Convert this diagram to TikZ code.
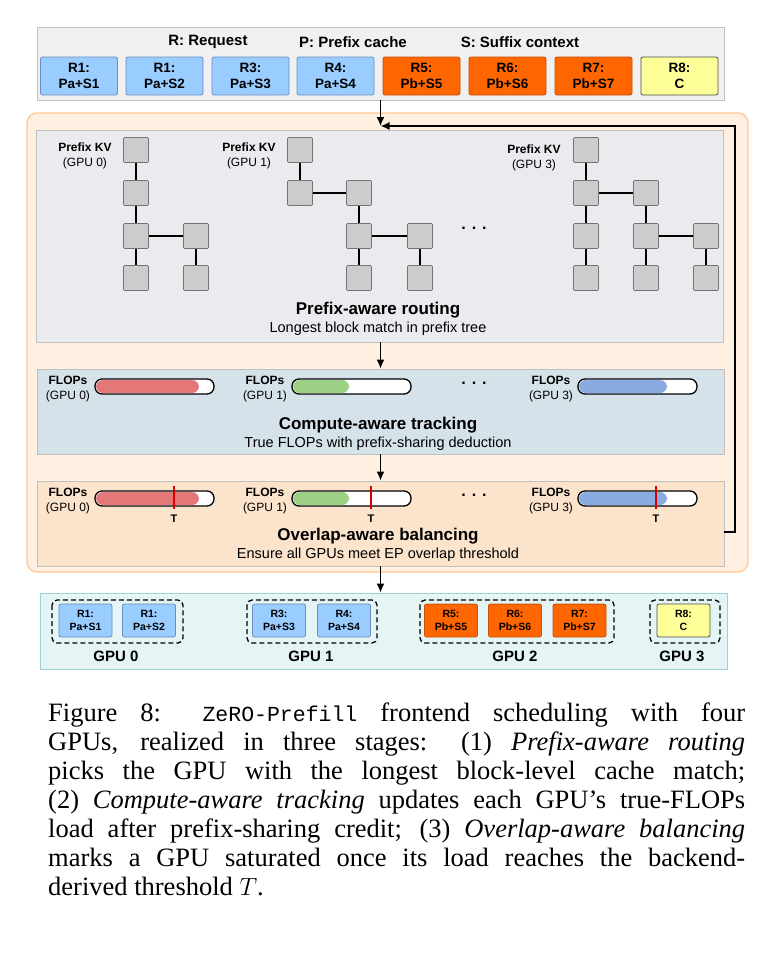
\documentclass[tikz,border=0pt]{standalone}
\usepackage{fontspec}
\setmainfont{Liberation Serif}
\setsansfont{Liberation Sans}
\setmonofont{Liberation Mono}
\usetikzlibrary{arrows.meta}

\definecolor{reqblue}{RGB}{153,204,255}
\definecolor{reqblueline}{RGB}{108,142,191}
\definecolor{reqorange}{RGB}{255,102,0}
\definecolor{reqorangeline}{RGB}{196,80,10}
\definecolor{reqyellow}{RGB}{255,255,153}
\definecolor{outerfill}{RGB}{255,240,226}
\definecolor{outerline}{RGB}{255,200,150}
\definecolor{prefixfill}{RGB}{233,235,238}
\definecolor{computefill}{RGB}{214,226,233}
\definecolor{overlapfill}{RGB}{251,227,204}
\definecolor{gpufill}{RGB}{229,245,245}
\definecolor{gpuline}{RGB}{160,208,208}
\definecolor{barred}{RGB}{228,120,120}
\definecolor{bargreen}{RGB}{156,208,132}
\definecolor{barblue}{RGB}{136,172,226}

\tikzset{
  panel/.style={draw=black!25, line width=0.8pt, minimum width=687pt, anchor=center, inner sep=0pt},
  reqbox/.style={draw=reqblueline, fill=reqblue, line width=0.8pt, rounded corners=2pt,
    minimum width=77pt, minimum height=38pt, align=center, font=\sffamily\bfseries\fontsize{13.5}{15.5}\selectfont},
  pbox/.style={reqbox, fill=reqorange, draw=reqorangeline},
  cbox/.style={reqbox, fill=reqyellow, draw=black!70},
  smallbox/.style={reqbox, minimum width=53pt, minimum height=33pt, font=\sffamily\bfseries\fontsize{10.5}{13.5}\selectfont},
  kvblock/.style={draw=black!55, fill=black!20, line width=0.6pt, rounded corners=1pt,
    minimum width=25pt, minimum height=25pt, inner sep=0pt},
  treeedge/.style={line width=1.5pt},
  flow/.style={line width=1.5pt, -{Latex[length=9pt,width=8pt]}},
  gpugroup/.style={draw, dashed, line width=1.3pt, dash pattern=on 5pt off 3pt, rounded corners=5pt},
  barframe/.style={draw, line width=1.3pt, fill=white, rounded corners=7pt},
  tmark/.style={draw=red!85!black, line width=2.2pt},
  smalllabel/.style={align=center, font=\sffamily\fontsize{12}{15}\selectfont},
  title/.style={font=\sffamily\bfseries\fontsize{17}{19}\selectfont},
  subtitle/.style={font=\sffamily\fontsize{14.5}{17}\selectfont},
  headline/.style={font=\sffamily\bfseries\fontsize{15}{17}\selectfont}
}

\begin{document}
\begin{tikzpicture}[x=1pt, y=-1pt]
\useasboundingbox (0,0) rectangle (775,975);

% request bar
\node[panel, fill=black!6, minimum height=73pt] (topbar) at (380.5,63.5) {};
\node[headline] at (208,42) {R: Request};
\node[headline] at (353,42) {P: Prefix cache};
\node[headline] at (520,42) {S: Suffix context};
\node[reqbox] (r1) at (79,76) {R1:\\Pa+S1};
\node[reqbox] (r2) at (164.5,76) {R1:\\Pa+S2};
\node[reqbox] (r3) at (250.5,76) {R3:\\Pa+S3};
\node[reqbox] (r4) at (335.5,76) {R4:\\Pa+S4};
\node[pbox] (r5) at (421.5,76) {R5:\\Pb+S5};
\node[pbox] (r6) at (507.5,76) {R6:\\Pb+S6};
\node[pbox] (r7) at (593.5,76) {R7:\\Pb+S7};
\node[cbox] (r8) at (679.5,76) {R8:\\C};

% scheduler
\draw[outerline, fill=outerfill, line width=1.3pt, rounded corners=10pt] (27,113) rectangle (748,572);
\node[panel, fill=prefixfill, minimum height=212pt] (prefix) at (379.5,236) {};
\node[panel, fill=computefill, minimum height=85pt] (compute) at (380.5,411.5) {};
\node[panel, fill=overlapfill, minimum height=85pt] (overlap) at (380.5,523.5) {};

% prefix trees
\foreach \name/\x/\y in {a0/136/150, a1/136/193, a2/136/236, a3/136/278, a4/196/236, a5/196/278,
    b0/300/150, b1/300/193, b2/359/193, b3/359/236, b4/359/278, b5/420/236, b6/420/278,
    c0/586/150, c1/586/193, c2/586/236, c3/586/278, c4/646/193, c5/646/236, c6/646/278, c7/706/236, c8/706/278}
  \node[kvblock] (\name) at (\x,\y) {};
\foreach \u/\v in {a0/a1, a1/a2, a2/a3, a2/a4, a4/a5,
    b0/b1, b1/b2, b2/b3, b3/b4, b3/b5, b5/b6,
    c0/c1, c1/c2, c2/c3, c1/c4, c4/c5, c5/c6, c5/c7, c7/c8}
  \draw[treeedge] (\u) -- (\v);
\node[smalllabel] at (85,156) {\textbf{Prefix KV}\\(GPU 0)};
\node[smalllabel] at (249,156) {\textbf{Prefix KV}\\(GPU 1)};
\node[smalllabel] at (534,158) {\textbf{Prefix KV}\\(GPU 3)};
\node[font=\sffamily\bfseries\fontsize{16}{18}\selectfont] at (474,228) {. . .};
\node[title] at (378,310) {Prefix-aware routing};
\node[subtitle] at (378,329) {Longest block match in prefix tree};

% compute-aware tracking
\foreach \y in {379,491} {
  \draw[barframe] (95,\y) rectangle (214,\y+15);
  \fill[barred, rounded corners=7pt] (96,\y+1) rectangle (199,\y+14);
  \draw[barframe] (292,\y) rectangle (411,\y+15);
  \fill[bargreen, rounded corners=7pt] (293,\y+1) rectangle (349,\y+14);
  \draw[barframe] (578,\y) rectangle (697,\y+15);
  \fill[barblue, rounded corners=7pt] (579,\y+1) rectangle (667,\y+14);
  \node[smalllabel] at (68,\y+10) {\textbf{FLOPs}\\(GPU 0)};
  \node[smalllabel] at (265,\y+10) {\textbf{FLOPs}\\(GPU 1)};
  \node[smalllabel] at (551,\y+10) {\textbf{FLOPs}\\(GPU 3)};
  \node[font=\sffamily\bfseries\fontsize{16}{18}\selectfont] at (474,\y+4) {. . .};
}
\node[title] at (378,425) {Compute-aware tracking};
\node[subtitle] at (378,444) {True FLOPs with prefix-sharing deduction};

% overlap-aware balancing
\foreach \x in {174,371,656} {
  \draw[tmark] (\x,486) -- (\x,509);
  \node[font=\sffamily\bfseries\fontsize{11}{13}\selectfont] at (\x,519) {T};
}
\node[title] at (378,536) {Overlap-aware balancing};
\node[subtitle] at (378,555) {Ensure all GPUs meet EP overlap threshold};

% GPU assignment
\node[panel, fill=gpufill, draw=gpuline, minimum height=76pt] (gpus) at (383.5,631) {};
\draw[gpugroup] (52,600) rectangle (183,643);
\draw[gpugroup] (247,600) rectangle (377,643);
\draw[gpugroup] (420,600) rectangle (614,643);
\draw[gpugroup] (650,600) rectangle (720,643);
\node[smallbox] (g1) at (85.5,620.5) {R1:\\Pa+S1};
\node[smallbox] (g2) at (149,620.5) {R1:\\Pa+S2};
\node[smallbox] (g3) at (279,620.5) {R3:\\Pa+S3};
\node[smallbox] (g4) at (344,620.5) {R4:\\Pa+S4};
\node[smallbox, fill=reqorange, draw=reqorangeline] (g5) at (451,620.5) {R5:\\Pb+S5};
\node[smallbox, fill=reqorange, draw=reqorangeline] (g6) at (515,620.5) {R6:\\Pb+S6};
\node[smallbox, fill=reqorange, draw=reqorangeline] (g7) at (579.5,620.5) {R7:\\Pb+S7};
\node[smallbox, fill=reqyellow, draw=black!70] (g8) at (683.5,620.5) {R8:\\C};
\foreach \x/\n in {116/0, 311/1, 515/2, 682/3}
  \node[headline] at (\x,656) {GPU \n};

% arrows
\coordinate (merge) at (380.5,126);
\coordinate (loop) at (735,532);
\draw[flow] (topbar.south) -- (merge);
\draw[flow] (overlap.east |- loop) -- (loop) |- (merge);
\draw[flow] (prefix.south -| merge) -- (compute.north -| merge);
\draw[flow] (compute.south -| merge) -- (overlap.north -| merge);
\draw[flow] (overlap.south -| merge) -- (gpus.north -| merge);

% caption
\node[anchor=north west, inner sep=0pt, text width=697pt, align=justify,
  font=\fontsize{26.5}{29}\selectfont] (caption) at (48,703)
  {Figure 8: {\fontsize{21.5}{29}\selectfont\texttt{ZeRO-Prefill}} frontend scheduling with four\linebreak
   GPUs, realized in three stages: (1) \textit{Prefix-aware routing}\linebreak
   picks the GPU with the longest block-level cache match;\linebreak
   (2) \textit{Compute-aware tracking} updates each GPU's true-FLOPs\linebreak
   load after prefix-sharing credit; (3) \textit{Overlap-aware balancing}\linebreak
   marks a GPU saturated once its load reaches the backend-\linebreak
   derived threshold $T$.};
\end{tikzpicture}
\end{document}
